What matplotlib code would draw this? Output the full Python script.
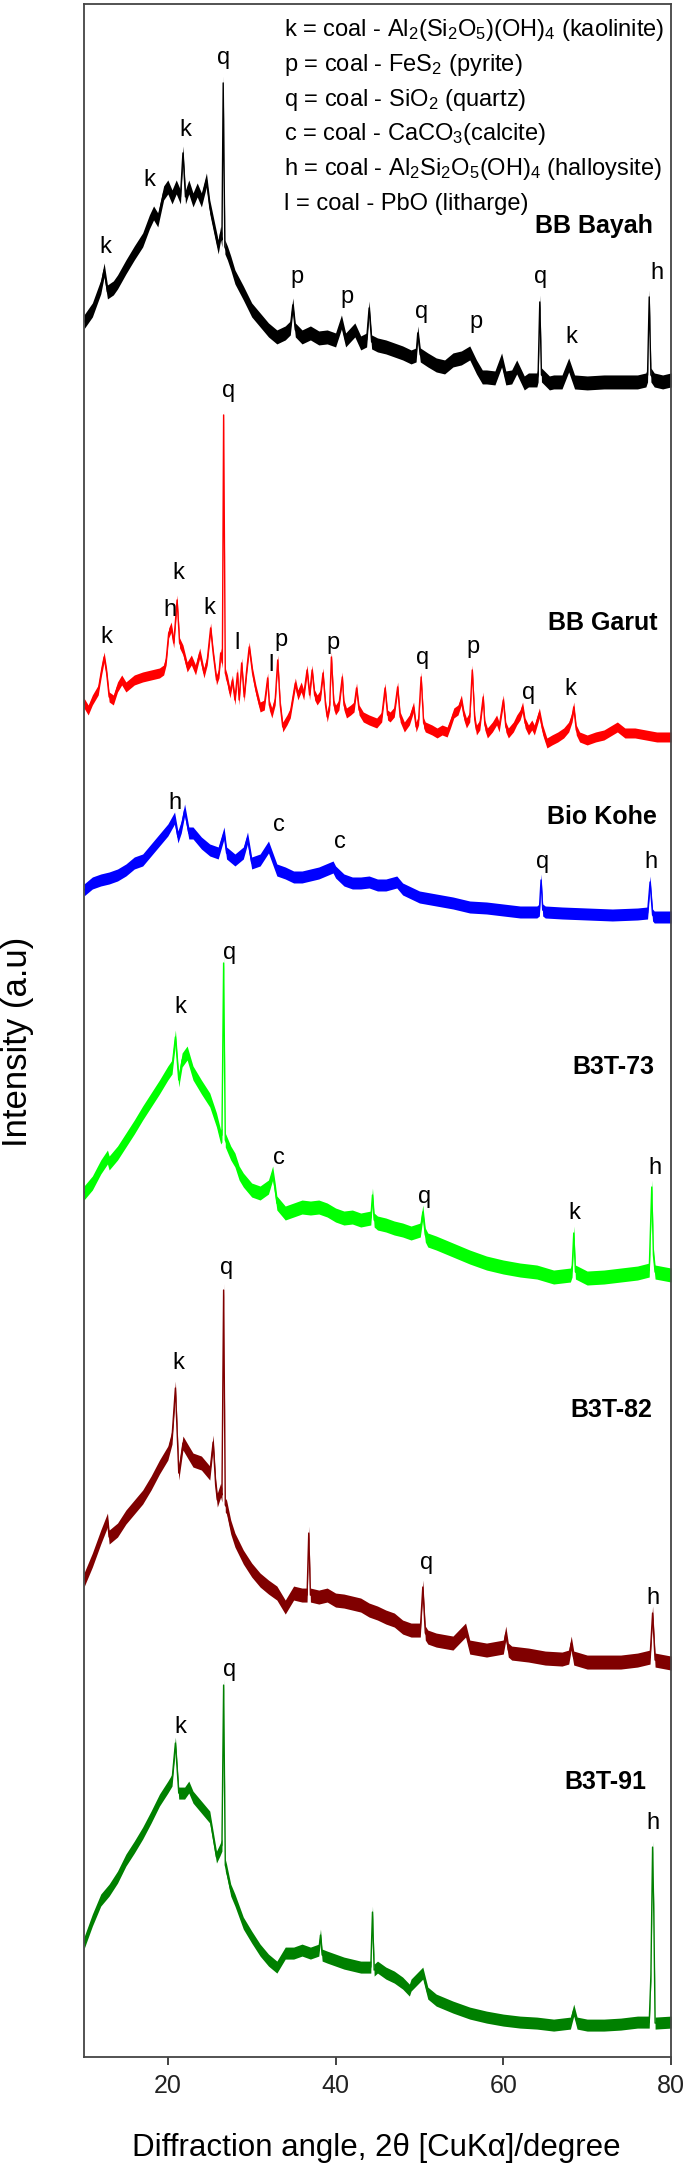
import matplotlib
matplotlib.use('Agg')
import matplotlib.pyplot as plt
import numpy as np

plt.rcParams['font.family'] = ['Liberation Sans', 'DejaVu Sans']
plt.rcParams['mathtext.default'] = 'regular'

# ---- XRD patterns (2theta in degrees, intensity in a.u.) ----
bayah_2t = [10, 11, 12, 12.4, 12.8, 13.5, 14, 15, 16, 17, 17.8, 18.3, 18.8, 19.5, 20, 20.5, 21, 21.5,
            21.8, 22.1, 22.5, 23, 23.5, 24, 24.6, 25, 25.5, 26, 26.3, 26.45, 26.6, 26.8, 27.1, 27.5,
            28, 29, 30, 31, 32, 33, 34, 34.6, 34.9, 35.2, 36, 37, 38, 39, 40, 40.7, 41.2, 42.3, 43,
            43.7, 44, 44.3, 45, 46, 47, 48, 49, 49.6, 49.8, 50.1, 51, 52, 53, 54, 55, 56, 56.8, 57.5,
            58, 59, 59.8, 60.3, 61, 61.6, 62.5, 63, 64, 64.15, 64.35, 64.55, 65.5, 66, 67, 67.8, 68.5,
            70, 72, 74, 76, 77, 77.2, 77.4, 77.6, 78, 79, 80]
bayah_i = [78, 90, 113, 130, 108, 112, 118, 133, 147, 160, 178, 187, 180, 207, 213, 203, 213, 203,
           247, 203, 213, 200, 210, 200, 220, 193, 173, 153, 167, 160, 317, 153, 147, 137,
           123, 107, 90, 80, 70, 63, 67, 72, 95, 70, 63, 67, 62, 63, 60, 78, 60, 70, 57,
           60, 92, 58, 55, 53, 50, 47, 43, 45, 67, 45, 40, 35, 33, 40, 42, 47, 33, 23,
           23, 22, 40, 22, 23, 33, 17, 20, 20, 25, 98, 25, 17, 18, 18, 35, 18,
           17, 18, 18, 18, 20, 25, 103, 25, 20, 18, 20]

garut_2t = [10, 10.5, 11, 11.7, 12.1, 12.4, 12.7, 13.0, 13.5, 14, 14.5, 15, 16, 17, 18, 19, 19.5,
            19.8, 20.1, 20.4, 20.7, 21.1, 21.4, 21.8, 22.3, 22.8, 23.3, 23.8, 24.3, 24.7, 25.1,
            25.4, 25.8, 26.1, 26.3, 26.5, 26.65, 26.85, 27.1, 27.4, 27.7, 28.0, 28.3, 28.5, 28.8,
            29.1, 29.4, 29.7, 30.1, 30.5, 31.0, 31.5, 31.9, 32.1, 32.4, 32.8, 33.1, 33.4, 33.7,
            34.2, 34.6, 35.2, 35.5, 35.9, 36.2, 36.6, 36.9, 37.2, 37.5, 37.8, 38.2, 38.5, 38.8,
            39.0, 39.3, 39.5, 39.8, 40.0, 40.4, 40.8, 41.0, 41.3, 41.8, 42.2, 42.5, 42.8, 43.3,
            44.0, 44.9, 45.5, 45.9, 46.2, 46.5, 47.0, 47.4, 47.7, 48.2, 48.8, 49.3, 49.6, 49.9,
            50.2, 50.5, 50.7, 51.5, 52.1, 52.7, 53.3, 53.7, 54.1, 54.6, 55.0, 55.3, 55.6, 56.0,
            56.3, 56.6, 56.8, 57.2, 57.6, 57.8, 58.1, 58.7, 59.2, 59.5, 60.0, 60.3, 60.6, 61.2,
            61.6, 62.0, 62.3, 62.6, 63.0, 63.4, 63.7, 64.3, 64.7, 65.2, 65.8, 66.5, 67.2, 67.8,
            68.2, 68.4, 68.7, 69.1, 70, 71, 72, 73.6, 74.5, 75.7, 77, 78.3, 80]
garut_i = [42, 35, 45, 55, 75, 88, 72, 48, 45, 58, 65, 58, 65, 68, 70, 72, 75,
           85, 112, 118, 102, 145, 102, 95, 78, 85, 75, 92, 72, 85, 117,
           92, 65, 72, 92, 82, 330, 72, 65, 52, 65, 45, 72, 45, 82,
           48, 75, 98, 72, 55, 38, 40, 67, 40, 32, 45, 85, 40, 18,
           25, 32, 62, 50, 58, 50, 75, 50, 75, 50, 45, 50, 72, 40,
           28, 40, 88, 40, 35, 40, 68, 40, 32, 35, 38, 57, 35, 28,
           25, 22, 28, 57, 30, 28, 33, 58, 28, 18, 25, 38, 18, 25,
           68, 22, 18, 15, 12, 15, 13, 22, 32, 35, 45, 30, 22, 28,
           75, 25, 15, 20, 48, 20, 12, 18, 25, 18, 45, 18, 12, 18,
           25, 30, 38, 22, 15, 20, 15, 32, 15, 2, 5, 8, 12, 18,
           28, 38, 15, 8, 5, 8, 10, 18, 12, 12, 10, 8, 8]

kohe_2t = [10, 11, 12, 13, 14, 15, 16, 17, 18, 19, 20, 20.8, 21.2, 21.6, 22, 22.5, 23, 24, 25, 26,
           26.7, 27, 28, 29, 29.5, 30, 31, 32, 33, 34, 35, 36, 37, 38, 39.7, 40, 41, 42, 43, 44,
           45, 46, 47.3, 48, 50, 52, 54, 56, 58, 60, 62, 64, 64.3, 64.5, 64.7, 65, 67, 70, 73, 76,
           77.2, 77.5, 77.8, 78, 80]
kohe_i = [35, 42, 45, 47, 50, 55, 62, 65, 75, 85, 95, 107, 88, 98, 115, 92, 92, 82, 75, 72,
          92, 72, 65, 72, 87, 62, 65, 78, 55, 52, 48, 48, 50, 52, 58, 53, 45, 42, 42, 43,
          40, 40, 43, 36, 28, 25, 22, 18, 17, 15, 13, 13, 15, 45, 15, 13, 12, 11, 10, 11,
          12, 43, 10, 8, 8]

b73_2t = [10, 11, 12, 12.8, 13, 14, 15, 16, 17, 18, 19, 20, 20.5, 20.9, 21.3, 21.7, 22.3, 23, 24,
          25, 25.8, 26.3, 26.45, 26.65, 26.85, 27.5, 28, 28.5, 29, 30, 31, 32, 32.5, 32.8, 33, 34,
          35, 36, 37, 38, 39, 40, 41, 42, 43, 44.2, 44.4, 44.6, 45, 46, 47, 48, 49, 50.1, 50.4,
          50.7, 51, 52, 54, 56, 58, 60, 62, 64, 66, 68, 68.2, 68.4, 68.6, 70, 72, 74, 76, 77.4,
          77.7, 77.9, 78.1, 80]
b73_i = [97, 107, 123, 133, 127, 137, 150, 163, 177, 190, 203, 217, 223, 253, 210, 230, 237, 217, 203,
         190, 170, 153, 155, 327, 150, 137, 130, 117, 110, 100, 97, 103, 117, 100, 87, 77,
         80, 83, 82, 83, 80, 75, 72, 73, 70, 72, 95, 70, 67, 65, 62, 60, 57, 60, 78,
         55, 50, 47, 40, 33, 27, 23, 20, 18, 13, 15, 20, 57, 18, 12, 13, 15, 17, 20,
         103, 35, 18, 15]

b82_2t = [10, 11, 12, 12.8, 13, 14, 15, 16, 17, 18, 19, 20, 20.5, 20.9, 21.3, 21.8, 22.5, 23, 24,
          25, 25.4, 25.7, 25.9, 26.3, 26.45, 26.65, 26.85, 27, 27.5, 28, 29, 30, 31, 32, 33, 34,
          35, 36, 36.6, 36.8, 37, 38, 39, 40, 41, 42, 43, 44, 45, 46, 47, 48, 49, 50.1, 50.4,
          50.7, 51, 52, 54, 55.5, 56, 58, 60, 60.3, 60.6, 61, 63, 65, 67, 67.8, 68.1, 68.4, 70,
          72, 74, 76, 77.5, 77.8, 78.1, 80]
b82_i = [95, 115, 138, 155, 138, 145, 158, 168, 178, 192, 208, 222, 238, 287, 202, 232, 222, 215, 212,
         202, 233, 190, 175, 185, 180, 385, 170, 168, 148, 135, 118, 105, 95, 88, 82, 68,
         82, 80, 80, 142, 80, 78, 80, 75, 74, 72, 70, 65, 62, 58, 55, 48, 45, 45, 88,
         42, 38, 35, 32, 45, 28, 25, 28, 42, 25, 22, 20, 17, 16, 18, 32, 17, 13,
         13, 13, 15, 18, 62, 15, 12]

b91_2t = [10, 11, 12, 13, 14, 15, 16, 17, 18, 19, 20, 20.5, 20.9, 21.3, 22, 22.5, 23, 24, 25, 25.8,
          26.2, 26.45, 26.65, 26.85, 27, 27.5, 28, 29, 30, 31, 32, 33, 34, 35, 36, 37, 38, 38.2,
          38.4, 39, 40, 41, 42, 43, 44, 44.2, 44.4, 44.6, 45, 46, 47, 48, 48.8, 49, 50.4, 51, 52,
          54, 56, 58, 60, 62, 64, 66, 68, 68.4, 68.8, 70, 72, 74, 76, 77.4, 77.6, 77.8, 77.95,
          78.1, 80]
b91_i = [92, 115, 135, 145, 158, 175, 188, 202, 218, 235, 248, 255, 292, 242, 242, 248, 238, 228, 218, 178,
         185, 190, 350, 170, 165, 145, 135, 112, 98, 85, 75, 68, 82, 82, 85, 82, 85, 100,
         80, 78, 75, 72, 70, 68, 68, 68, 123, 65, 68, 62, 58, 52, 45, 50, 62, 42, 35,
         28, 22, 18, 15, 13, 12, 10, 12, 25, 12, 10, 10, 11, 13, 13, 60, 188, 120,
         12, 13]

samples = ['BB Bayah', 'BB Garut', 'Bio Kohe', 'B3T-73', 'B3T-82', 'B3T-91']
offsets = [1657, 1312, 1132, 767, 382, 22]
noise_hw = [7, 5, 6, 7, 7, 6]   # half-width of the noise band seen on each trace
colors = ['black', 'red', 'blue', '#00ff00', '#800000', 'green']

series = [(bayah_2t, bayah_i), (garut_2t, garut_i), (kohe_2t, kohe_i),
          (b73_2t, b73_i), (b82_2t, b82_i), (b91_2t, b91_i)]

# sample name label: (x right edge, y)
name_pos = [(77.8, 1831), (78.4, 1434), (78.3, 1240), (78.0, 990), (77.8, 647), (77.1, 275)]

# phase letters placed above the peaks
peak_labels = [
    ('k', 12.6, 1810), ('k', 17.8, 1877), ('k', 22.1, 1927), ('q', 26.7, 1999), ('p', 35.4, 1780),
    ('p', 41.4, 1760), ('q', 50.3, 1745), ('p', 56.8, 1735), ('q', 64.4, 1780), ('k', 68.1, 1720),
    ('h', 78.3, 1784),
    ('q', 27.2, 1666), ('k', 21.2, 1484), ('h', 20.2, 1447), ('k', 25.0, 1449), ('k', 12.7, 1420),
    ('l', 28.3, 1414), ('l', 32.3, 1392), ('p', 33.5, 1417), ('p', 39.7, 1414), ('q', 50.4, 1399),
    ('p', 56.4, 1410), ('q', 63.0, 1364), ('k', 68.0, 1368),
    ('h', 20.8, 1254), ('c', 33.2, 1232), ('c', 40.5, 1215), ('q', 64.7, 1195), ('h', 77.6, 1195),
    ('q', 27.3, 1104), ('k', 21.5, 1050), ('c', 33.3, 899), ('q', 50.6, 860), ('k', 68.5, 844),
    ('h', 78.1, 889),
    ('q', 27.0, 789), ('k', 21.2, 694), ('q', 50.8, 494), ('h', 77.8, 459),
    ('q', 27.3, 387), ('k', 21.5, 330), ('h', 77.9, 234),
]

legend_lines = [
    'k = coal - Al$_2$(Si$_2$O$_5$)(OH)$_4$ (kaolinite)',
    'p = coal - FeS$_2$ (pyrite)',
    'q = coal - SiO$_2$ (quartz)',
    'c = coal - CaCO$_3$(calcite)',
    'h = coal - Al$_2$Si$_2$O$_5$(OH)$_4$ (halloysite)',
    'l = coal - PbO (litharge)',
]

fig = plt.figure(figsize=(6.85, 21.72), dpi=100)
ax = fig.add_axes([0.1226, 0.0529, 0.857, 0.9453])

for (tt, ii), off, hw, col in zip(series, offsets, noise_hw, colors):
    tt = np.asarray(tt, dtype=float)
    yy = np.asarray(ii, dtype=float) + off
    ax.fill_between(tt, yy - hw, yy + hw, color=col, lw=0)
    ax.plot(tt, yy, color=col, lw=1.0)

for name, (xr, yc) in zip(samples, name_pos):
    ax.text(xr, yc, name, ha='right', va='center', fontsize=18, fontweight='bold')

for lab, xp, yp in peak_labels:
    ax.text(xp, yp, lab, ha='center', va='center', fontsize=17)

for j, line in enumerate(legend_lines):
    ax.text(33.9, 2027 - j * 34.8, line, ha='left', va='center', fontsize=17)

ax.set_xlim(10, 80)
ax.set_ylim(0, 2053)
ax.set_xticks([20, 40, 60, 80])
ax.set_yticks([])
ax.tick_params(axis='x', direction='out', length=6, width=1.2, labelsize=18, pad=6, colors='#222222')
for sp in ax.spines.values():
    sp.set_color('#444444')
    sp.set_linewidth(1.3)

fig.text(0.025, 1 - 1042 / 2172, 'Intensity (a.u)', rotation=90, ha='center', va='center', fontsize=25)
fig.text(0.549, 1 - 2148 / 2172, 'Diffraction angle, 2θ [CuKα]/degree', ha='center', va='center',
         fontsize=22.5)

fig.savefig('out.png', dpi=100)
